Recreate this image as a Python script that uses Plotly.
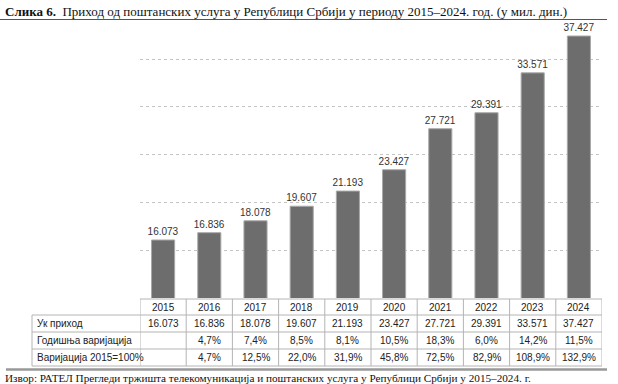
import plotly.graph_objects as go

years = ["2015", "2016", "2017", "2018", "2019", "2020", "2021", "2022", "2023", "2024"]
revenue = [16073, 16836, 18078, 19607, 21193, 23427, 27721, 29391, 33571, 37427]
revenue_labels = ["16.073", "16.836", "18.078", "19.607", "21.193", "23.427", "27.721", "29.391", "33.571", "37.427"]
annual_var = ["", "4,7%", "7,4%", "8,5%", "8,1%", "10,5%", "18,3%", "6,0%", "14,2%", "11,5%"]
cum_var = ["", "4,7%", "12,5%", "22,0%", "31,9%", "45,8%", "72,5%", "82,9%", "108,9%", "132,9%"]
row_labels = ["Ук приход", "Годишња варијација", "Варијација 2015=100%"]
title_bold = "Слика 6."
title_rest = "Приход од поштанских услуга у Републици Србији у периоду 2015–2024. год. (у мил. дин.)"
source = "Извор: РАТЕЛ Прегледи тржишта телекомуникација и поштанских услуга у Републици Србији у 2015–2024. г."

W, H = 618, 384
px = lambda x: x / W
py = lambda y: 1 - y / H

x0, x1 = 140, 602
y_top, y_base = 21, 298

n = len(years)
xs = list(range(n))

fig = go.Figure()
fig.add_trace(go.Bar(
    x=xs, y=revenue, width=0.5,
    marker=dict(color="#6d6d6d", line=dict(color="#a8a8a8", width=1)),
    text=revenue_labels, textposition="outside", cliponaxis=False, constraintext="none",
    textfont=dict(family="Liberation Sans", size=10, color="#333333"),
    hoverinfo="skip",
))

fig.update_layout(
    width=W, height=H, margin=dict(l=0, r=0, t=0, b=0),
    paper_bgcolor="white", plot_bgcolor="white", showlegend=False,
    xaxis=dict(domain=[px(x0), px(x1)], range=[-0.5, n - 0.5], showticklabels=False,
               showgrid=False, zeroline=False, showline=False, ticks=""),
    yaxis=dict(domain=[py(y_base), py(y_top)], range=[10000, 39000], showticklabels=False,
               showgrid=True, gridcolor="#c4c4c4", griddash="dot", gridwidth=1,
               tick0=10000, dtick=5000, zeroline=False, showline=False, ticks=""),
    font=dict(family="Liberation Sans"),
)

shapes = []
ann = []
line_col = "#b4b4b4"
rows = [299, 315, 332, 349, 366]
lab_x0 = 32

for i, yy in enumerate(rows):
    xa = x0 if i == 0 else lab_x0
    shapes.append(dict(type="line", xref="paper", yref="paper", x0=px(xa), x1=px(x1),
                       y0=py(yy), y1=py(yy), line=dict(color=line_col, width=1)))
shapes.append(dict(type="line", xref="paper", yref="paper", x0=px(lab_x0), x1=px(lab_x0),
                   y0=py(rows[1]), y1=py(rows[-1]), line=dict(color=line_col, width=1)))
for i in range(n + 1):
    shapes.append(dict(type="line", xref="x", yref="paper", x0=i - 0.5, x1=i - 0.5,
                       y0=py(rows[0]), y1=py(rows[-1]), line=dict(color=line_col, width=1)))

tfont = dict(family="Liberation Sans", size=10, color="#222222")
for i, yv in enumerate(years):
    ann.append(dict(x=i, y=py((rows[0] + rows[1]) / 2), xref="x", yref="paper", text=yv,
                    showarrow=False, font=tfont, xanchor="center", yanchor="middle"))
row_data = [revenue_labels, annual_var, cum_var]
for r, (lab, vals) in enumerate(zip(row_labels, row_data)):
    yc = py((rows[r + 1] + rows[r + 2]) / 2)
    ann.append(dict(x=px(lab_x0 + 3), y=yc, xref="paper", yref="paper", text=lab,
                    showarrow=False, font=tfont, xanchor="left", yanchor="middle"))
    for i, v in enumerate(vals):
        if v:
            ann.append(dict(x=i, y=yc, xref="x", yref="paper", text=v, showarrow=False,
                            font=tfont, xanchor="center", yanchor="middle"))

ann.append(dict(x=px(3), y=py(11), xref="paper", yref="paper",
                text=f"<b>{title_bold}</b>  {title_rest}", showarrow=False,
                font=dict(family="Liberation Serif", size=13, color="#111111"),
                xanchor="left", yanchor="middle"))
shapes.append(dict(type="line", xref="paper", yref="paper", x0=0, x1=px(607), y0=py(19.5), y1=py(19.5),
                   line=dict(color="#555555", width=1)))
shapes.append(dict(type="line", xref="paper", yref="paper", x0=px(6), x1=px(607), y0=py(369.5), y1=py(369.5),
                   line=dict(color="#999999", width=2.5)))
ann.append(dict(x=px(3), y=py(378), xref="paper", yref="paper", text=source, showarrow=False,
                font=dict(family="Liberation Serif", size=11.2, color="#111111"),
                xanchor="left", yanchor="middle"))

fig.update_layout(shapes=shapes, annotations=ann)
fig.write_html("out.html", config={"displayModeBar": False},
               post_script="document.body.style.margin='0';document.body.style.overflow='hidden';")
